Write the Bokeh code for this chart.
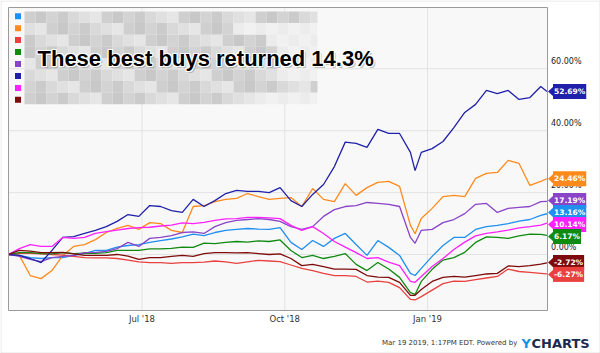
import pandas as pd
from bokeh.plotting import figure
from bokeh.models import Range1d, Label, PolyAnnotation
from bokeh.core.properties import value
from bokeh.embed import file_html
from bokeh.resources import INLINE

# ---------------- data (percent price return) ----------------
DATES = ["2018-04-06", "2018-04-13", "2018-04-20", "2018-04-27", "2018-05-04", "2018-05-11",
         "2018-05-18", "2018-05-25", "2018-06-01", "2018-06-08", "2018-06-15", "2018-06-22",
         "2018-06-29", "2018-07-06", "2018-07-13", "2018-07-20", "2018-07-27", "2018-08-03",
         "2018-08-10", "2018-08-17", "2018-08-24", "2018-08-31", "2018-09-07", "2018-09-14",
         "2018-09-21", "2018-09-28", "2018-10-05", "2018-10-12", "2018-10-19", "2018-10-26",
         "2018-11-02", "2018-11-09", "2018-11-16", "2018-11-23", "2018-11-30", "2018-12-07",
         "2018-12-14", "2018-12-21", "2018-12-24", "2018-12-28", "2019-01-04", "2019-01-11",
         "2019-01-18", "2019-01-25", "2019-02-01", "2019-02-08", "2019-02-15", "2019-02-22",
         "2019-03-01", "2019-03-08", "2019-03-15", "2019-03-19"]

BLUE = [0.0, -0.3, -1.0, -1.3, -1.0, -1.0, -0.3, 0.3, 1.3, 1.3,
        2.4, 2.9, 3.2, 3.9, 4.5, 5.0, 5.7, 6.6, 6.1, 7.1,
        7.8, 8.1, 8.4, 8.2, 8.1, 8.7, 3.9, 1.6, 4.5, 2.6,
        5.2, 6.8, 3.2, -0.3, 4.5, 2.3, -0.3, -6.1, -6.8,
        -4.5, -0.6, 2.9, 5.5, 5.5, 8.1, 9.0, 9.4, 10.0, 10.8, 11.3, 12.6, 13.16]
ORANGE = [0.0, -0.3, -6.8, -7.8, -5.2, -0.3, 2.6, 3.2, 4.8, 7.1,
          8.4, 9.4, 8.1, 10.3, 10.0, 7.8, 7.1, 15.5, 15.8, 17.1,
          17.8, 18.1, 19.7, 18.7, 17.8, 18.1, 18.4, 15.5, 21.3, 17.8,
          17.1, 22.9, 19.1, 21.6, 23.3, 23.6, 22.0, 9.4, 6.7,
          11.6, 14.9, 18.7, 19.1, 18.7, 24.6, 26.2, 26.5, 30.4, 29.4, 22.3, 23.6, 24.46]
RED = [0.0, 0.4, 0.4, 0.2, 0.0, -0.2, -0.6, -1.0, -1.1, -1.1,
       -1.3, -1.8, -2.4, -2.6, -2.6, -2.9, -2.6, -2.6, -2.5, -2.1,
       -2.4, -2.9, -2.4, -1.9, -2.1, -2.3, -3.4, -4.5, -5.2, -6.1,
       -6.8, -6.8, -7.1, -8.9, -8.6, -9.0, -10.7, -14.5, -14.7,
       -13.6, -11.5, -9.4, -8.6, -8.7, -8.1, -7.6, -7.1, -4.7, -5.5, -5.8, -6.1, -6.27]
GREEN = [0.0, 0.6, 0.6, 0.3, 0.2, 0.6, 0.3, 0.4, 0.4, 0.6,
         1.3, 1.3, 1.3, 1.8, 1.8, 2.0, 2.4, 2.3, 3.7, 3.5,
         3.9, 4.2, 4.0, 4.4, 4.2, 4.7, 1.3, -1.0, -0.3, -1.3,
         -0.6, 0.3, -3.2, -5.2, -2.6, -4.7, -7.4, -12.3, -12.9,
         -8.7, -4.8, -1.8, -1.0, 0.7, 3.9, 5.7, 5.5, 5.2, 6.0, 6.6, 6.5, 6.17]
PURPLE = [0.0, -0.6, -1.6, -2.3, -1.0, -0.6, -0.3, 0.6, 0.7, 1.0,
          1.9, 3.9, 2.6, 5.2, 5.5, 6.1, 7.1, 7.3, 6.8, 9.0,
          10.3, 11.0, 11.3, 11.6, 11.3, 10.7, 9.0, 8.1, 9.0, 12.3,
          14.5, 15.5, 15.8, 16.8, 16.5, 16.2, 15.5, 5.5, 3.6,
          7.8, 8.1, 10.3, 11.3, 13.2, 16.2, 16.5, 13.6, 14.9, 15.2, 15.5, 17.1, 17.19]
NAVY = [0.0, -0.3, -1.3, -2.6, 1.3, 5.5, 5.8, 6.8, 7.8, 9.0,
        10.7, 12.9, 12.3, 15.8, 15.5, 14.2, 13.6, 17.8, 15.5, 17.4,
        19.7, 20.7, 20.4, 20.4, 20.0, 21.6, 17.4, 15.5, 19.4, 22.6,
        28.4, 36.3, 35.9, 34.6, 40.4, 39.1, 39.1, 33.0, 27.1,
        33.0, 34.2, 36.5, 41.0, 45.9, 48.5, 53.0, 52.0, 53.0, 50.1, 50.7, 54.3, 52.69]
MAGENTA = [0.0, 1.9, 3.2, 2.6, 2.6, 5.5, 5.2, 5.5, 6.8, 7.4,
           7.9, 8.4, 8.7, 8.8, 9.2, 9.5, 10.2, 10.0, 10.4, 11.0,
           11.5, 11.6, 12.0, 12.0, 11.8, 11.6, 9.4, 7.8, 9.0, 6.8,
           4.2, 2.4, 0.6, -1.3, -1.0, -2.5, -3.6, -8.7, -9.0,
           -7.1, -3.9, -1.3, 1.6, 4.0, 6.0, 6.8, 7.3, 7.9, 8.6, 9.0, 9.5, 10.14]
DARKRED = [0.0, 1.3, 1.1, 0.6, 0.6, 0.7, 0.2, -0.3, -0.3, -0.3,
           0.0, -0.5, -1.6, -1.0, -1.0, -0.6, -0.3, -0.6, 0.3, 0.6,
           0.6, 0.5, 0.6, 0.3, 0.0, 0.2, -1.3, -3.6, -3.2, -3.9,
           -4.7, -4.7, -4.8, -6.8, -7.3, -7.4, -9.0, -13.2, -13.2,
           -11.3, -8.7, -7.4, -7.1, -7.3, -6.8, -6.3, -6.1, -3.7, -3.9, -3.6, -3.1, -2.72]

SERIES = [BLUE, ORANGE, RED, GREEN, PURPLE, NAVY, MAGENTA, DARKRED]
COLORS = ["#1f8ff0", "#ff8a1c", "#e8413f", "#108a10", "#8a44c8", "#2020aa", "#ff20ff", "#7e0b0b"]

X_TICKS = ["2018-07-01", "2018-10-01", "2019-01-01"]
Y_TICKS = [0, 20, 40, 60]
HEADLINE = "These best buys returned 14.3%"
FOOTER = "Mar 19 2019, 1:17PM EDT.  Powered by"

# ---------------- layout ----------------
W, H = 600, 353
FL, FR, FT, FB = 8, 547, 7, 310          # plotting area inside the canvas


def ms(d):
    return pd.Timestamp(d).value / 1e6


X0, X1 = ms("2018-04-06"), ms("2019-03-19 08:00")
Y0, Y1 = -18.1, 79.8
MPP = (X1 - X0) / (FR - FL)   # ms per pixel
UPP = (Y1 - Y0) / (FB - FT)   # percent per pixel


def px2x(px):
    return X0 + (px - FL) * MPP


def px2y(py):
    return Y1 - (py - FT) * UPP


xs = [ms(d) for d in DATES]

p = figure(width=W, height=H, output_backend="svg", toolbar_location=None,
           x_range=Range1d(px2x(0), px2x(W)), y_range=Range1d(px2y(H), px2y(0)),
           x_axis_type=None, y_axis_type=None)
p.min_border = 0
p.min_border_left = p.min_border_right = p.min_border_top = p.min_border_bottom = 0
p.background_fill_color = "white"
p.border_fill_color = "white"
p.outline_line_color = None
p.xgrid.visible = False
p.ygrid.visible = False

# plotting area background
p.quad(left=[X0], right=[X1], bottom=[Y0], top=[Y1], fill_color="#f8f8f8", line_color=None)

# grid lines
xt = [ms(d) for d in X_TICKS]
p.segment(x0=xt, x1=xt, y0=[Y0] * len(xt), y1=[Y1] * len(xt), line_color="#e3e3e3", line_width=1)
p.segment(x0=[X0] * len(Y_TICKS), x1=[X1] * len(Y_TICKS), y0=Y_TICKS, y1=Y_TICKS,
          line_color="#e3e3e3", line_width=1)

# lines
for vals, c in zip(SERIES, COLORS):
    p.line(xs, vals, line_color=c, line_width=1.3)

# plotting area border
p.quad(left=[X0], right=[X1], bottom=[Y0], top=[Y1], fill_alpha=0, line_color="#9a9a9a", line_width=1)

# x tick labels
p.text(x=xt, y=[px2y(318)] * len(xt), text=[pd.Timestamp(d).strftime("%b '%y") for d in X_TICKS],
       text_font=value("DejaVu Sans"), text_font_size="8.5px", text_color="#333333",
       text_align="center", text_baseline="middle")

# y tick labels (right, just above their grid line)
p.text(x=[px2x(550.5)] * len(Y_TICKS), y=[t + 7 * UPP for t in Y_TICKS],
       text=["%.2f%%" % t for t in Y_TICKS],
       text_font=value("DejaVu Sans"), text_font_size="8px", text_color="#222222",
       text_align="left", text_baseline="middle")

# redacted legend block (pixelated gray)
shades = ["#cfcfcf", "#d9d9d9", "#c8c8c8", "#e0e0e0", "#d3d3d3", "#e6e6e6", "#cbcbcb"]
row_tops = [11, 22.6, 34.2, 45.8, 57.4, 69, 80.6, 92.2, 103.8]
row_ends = [317, 228, 260, 272, 268, 272, 317, 249]
ql, qr, qt, qb, qc = [], [], [], [], []
for r in range(8):
    x = 24.0
    col = 0
    while x < 317:
        xe = min(x + 11, 317)
        ql.append(px2x(x)); qr.append(px2x(xe))
        qt.append(px2y(row_tops[r])); qb.append(px2y(row_tops[r + 1]))
        if x < row_ends[r]:
            qc.append(shades[(r * 3 + col * 2) % len(shades)])
        else:
            qc.append("#f1f1f1" if (r + col) % 2 else "#ececec")
        x = xe
        col += 1
p.quad(left=ql, right=qr, top=qt, bottom=qb, fill_color=qc, line_color=None)

# legend colour squares
p.scatter([px2x(17.5)] * 8, [px2y(15.7 + 11.95 * i) for i in range(8)],
          marker="square", size=6, fill_color=COLORS, line_color=None)

# headline with white halo
hx, hy = px2x(37), px2y(58)
common = dict(x=hx, y=hy, text=HEADLINE, text_font="Liberation Sans", text_font_style="bold",
              text_font_size="22px", text_baseline="alphabetic", text_align="left")
p.add_layout(Label(x_offset=2, y_offset=-2, text_color="#9a9a9a", text_alpha=0.6, **common))
for dx, dy in [(-1, 0), (1, 0), (0, -1), (0, 1), (-1, -1), (1, 1), (1, -1), (-1, 1)]:
    p.add_layout(Label(x_offset=dx, y_offset=dy, text_color="white", **common))
p.add_layout(Label(text_color="black", **common))

# end-of-line value flags
last = [s[-1] for s in SERIES]
order = sorted(range(len(last)), key=lambda i: -last[i])
pos = [last[i] for i in order]
gap = 12 * UPP
for _ in range(60):
    for j in range(len(pos) - 1):
        d = pos[j] - pos[j + 1]
        if d < gap:
            m = (gap - d) / 2
            pos[j] += m
            pos[j + 1] -= m
for i, fy in zip(order, pos):
    c = COLORS[i]
    p.add_layout(PolyAnnotation(xs=[px2x(547.5), px2x(553), px2x(553)],
                                ys=[fy, fy + 5 * UPP, fy - 5 * UPP],
                                fill_color=c, fill_alpha=1, line_color=None))
    p.add_layout(Label(x=px2x(552.5), y=fy, text="%.2f%%" % last[i],
                       text_font="DejaVu Sans", text_font_style="bold", text_font_size="7.5px",
                       text_color="white", text_baseline="middle", text_align="left",
                       background_fill_color=c, background_fill_alpha=1, padding=(1, 3)))

# footer
p.add_layout(Label(x=px2x(381.5), y=px2y(342.5), text=FOOTER, text_font="DejaVu Sans",
                   text_font_size="7px", text_color="#333333", text_baseline="alphabetic"))
p.add_layout(Label(x=px2x(521), y=px2y(343), text="Y", text_font="DejaVu Sans",
                   text_font_style="bold", text_font_size="13px", text_color="#1a8fe3",
                   text_baseline="alphabetic"))
p.add_layout(Label(x=px2x(531), y=px2y(343), text="CHARTS", text_font="DejaVu Sans",
                   text_font_style="bold", text_font_size="13px", text_color="#1c2a4c",
                   text_baseline="alphabetic"))

# outer image border
p.add_layout(PolyAnnotation(xs=[px2x(0.5), px2x(599.5), px2x(599.5), px2x(0.5)],
                            ys=[px2y(0.5), px2y(0.5), px2y(352.5), px2y(352.5)],
                            fill_alpha=0, line_color="#a8a8a8", line_width=1))

open("out.html", "w").write(file_html(p, INLINE))
